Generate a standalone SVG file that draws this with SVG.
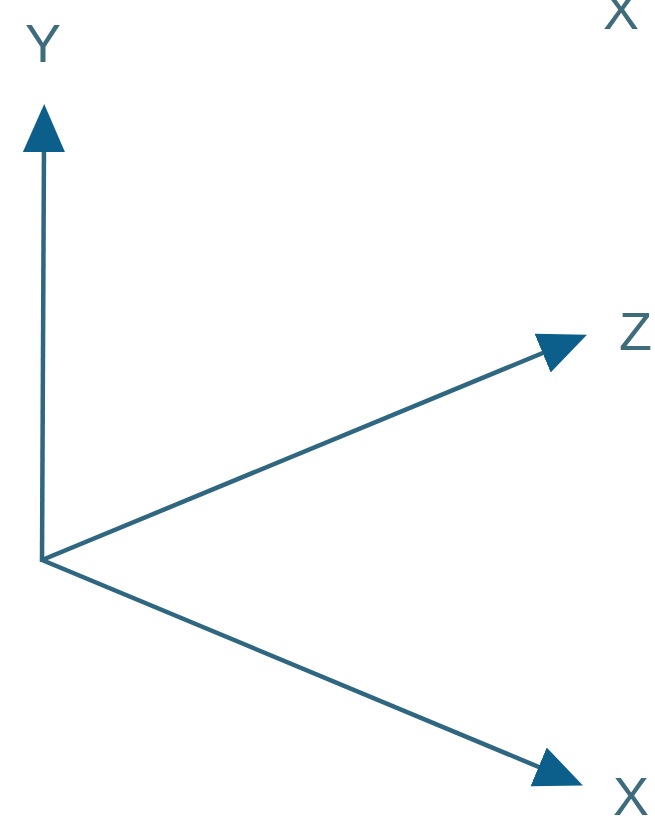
<svg xmlns="http://www.w3.org/2000/svg" width="655" height="820" viewBox="0 0 655 820">
<style>
.axis{stroke:#2f6680;stroke-width:4.5;fill:none}
.lbl{font-family:"Liberation Sans",Arial,sans-serif;font-size:54px;fill:#3f6c7c;font-weight:300}
</style>
<defs>
<marker id="ah" markerUnits="userSpaceOnUse" markerWidth="50" markerHeight="44" refX="8" refY="21" orient="auto">
<path d="M0,0 L48,21 L0,42 Z" fill="#0c5f8b"/>
</marker>
</defs>
<rect width="655" height="820" fill="#ffffff"/>
<g id="connectors">
<line class="axis" x1="42" y1="562" x2="44" y2="144" marker-end="url(#ah)"/>
<line class="axis" x1="42" y1="560" x2="550" y2="350" marker-end="url(#ah)"/>
<line class="axis" x1="42" y1="560" x2="546" y2="770" marker-end="url(#ah)"/>
</g>
<g id="label-y"><text class="lbl" x="25" y="62">Y</text></g>
<g id="label-z"><text class="lbl" x="619" y="350">Z</text></g>
<g id="label-x"><text class="lbl" x="613" y="815">X</text></g>
<g id="label-x-top"><text class="lbl" x="603" y="29">X</text></g>
</svg>
